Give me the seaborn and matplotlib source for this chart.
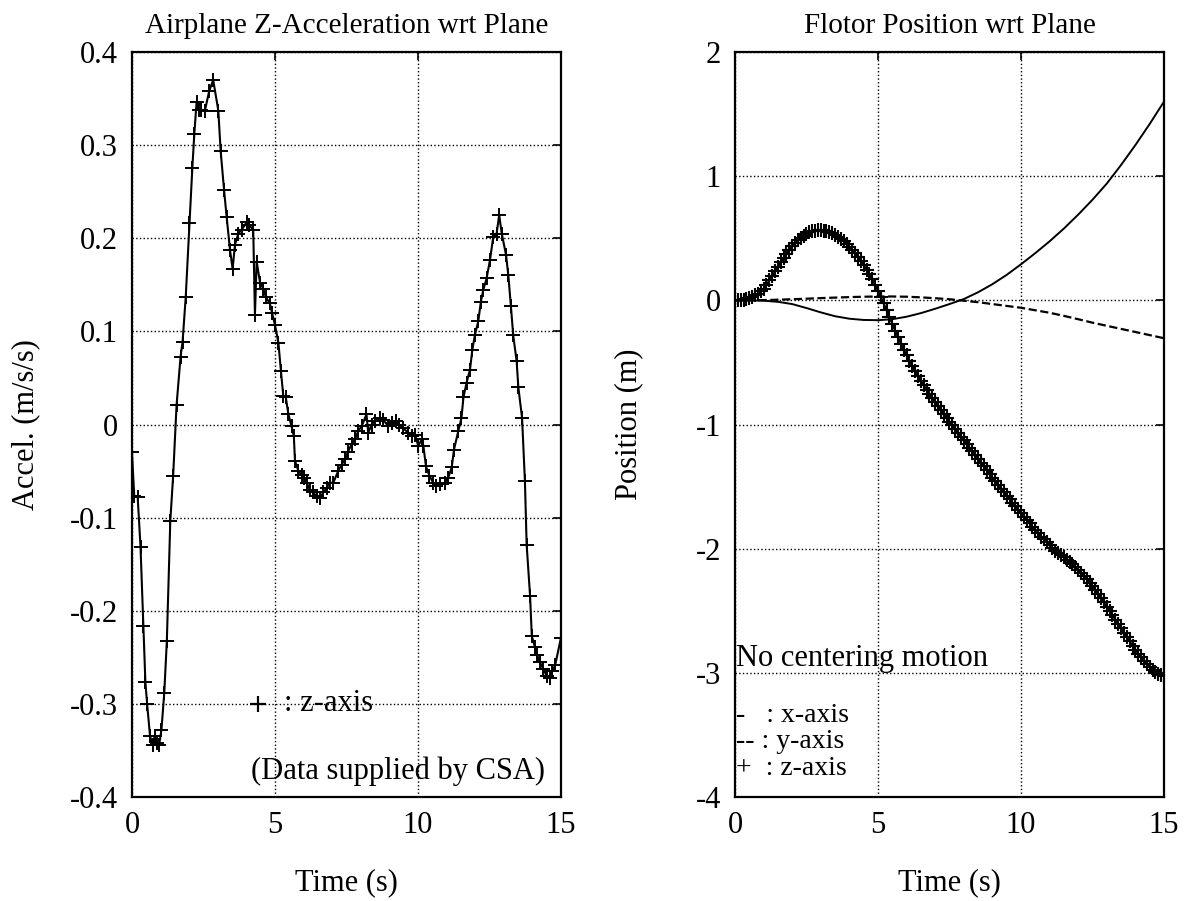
import numpy as np
import matplotlib
matplotlib.use("Agg")
import matplotlib.pyplot as plt
import seaborn as sns

# --- left panel: airplane z-acceleration ---
acc_time = [0.00, 0.08, 0.20, 0.30, 0.40, 0.47, 0.53, 0.63, 0.72, 0.80, 0.88, 0.95, 1.03, 1.13,
            1.22, 1.34, 1.44, 1.56, 1.70, 1.77, 1.88, 2.01, 2.11, 2.18, 2.26, 2.35, 2.43, 2.55,
            2.70, 2.84, 3.02, 3.10, 3.22, 3.31, 3.43, 3.52, 3.60, 3.72, 3.83, 4.01, 4.10, 4.24,
            4.30, 4.36, 4.48, 4.59, 4.68, 4.82, 4.90, 5.00, 5.12, 5.21, 5.29, 5.38, 5.47, 5.58,
            5.66, 5.70, 5.82, 5.93, 6.01, 6.11, 6.22, 6.34, 6.46, 6.57, 6.69, 6.81, 6.92, 7.04,
            7.21, 7.33, 7.45, 7.56, 7.68, 7.80, 7.91, 8.03, 8.20, 8.26, 8.38, 8.50, 8.67, 8.79,
            8.96, 9.08, 9.23, 9.35, 9.49, 9.66, 9.78, 9.90, 10.01, 10.13, 10.19, 10.28, 10.40,
            10.53, 10.63, 10.77, 10.94, 11.06, 11.18, 11.26, 11.41, 11.52, 11.59, 11.70, 11.82,
            11.90, 11.99, 12.11, 12.20, 12.28, 12.40, 12.52, 12.63, 12.75, 12.84, 12.93, 13.08,
            13.16, 13.25, 13.33, 13.45, 13.51, 13.64, 13.74, 13.80, 13.92, 13.98, 14.09, 14.17,
            14.26, 14.38, 14.50, 14.60, 14.70, 14.80, 15.00]
acc_z = [-0.030, -0.077, -0.078, -0.132, -0.216, -0.277, -0.300, -0.334, -0.344, -0.334, -0.342,
         -0.344, -0.328, -0.288, -0.232, -0.104, -0.055, 0.021, 0.073, 0.089, 0.137, 0.216, 0.275,
         0.312, 0.346, 0.338, 0.338, 0.337, 0.358, 0.370, 0.337, 0.294, 0.252, 0.223, 0.187, 0.167,
         0.193, 0.205, 0.209, 0.217, 0.214, 0.209, 0.118, 0.175, 0.152, 0.146, 0.137, 0.130, 0.120,
         0.107, 0.088, 0.057, 0.031, 0.029, 0.011, -0.002, -0.0125, -0.039, -0.050, -0.054, -0.057,
         -0.0625, -0.070, -0.073, -0.077, -0.079, -0.073, -0.068, -0.0625, -0.0625, -0.050, -0.043,
         -0.0375, -0.029, -0.021, -0.016, -0.007, -0.002, 0.011, -0.009, 0.000, 0.004, 0.007, 0.005,
         -0.002, 0.002, 0.004, 0.000, -0.004, -0.009, -0.0125, -0.011, -0.023, -0.016, -0.023,
         -0.045, -0.055, -0.0625, -0.066, -0.064, -0.0625, -0.057, -0.046, -0.027, -0.007, 0.007,
         0.029, 0.045, 0.059, 0.080, 0.096, 0.111, 0.132, 0.144, 0.157, 0.177, 0.201, 0.205, 0.225,
         0.205, 0.182, 0.160, 0.127, 0.096, 0.068, 0.040, 0.007, -0.061, -0.129, -0.184, -0.227,
         -0.239, -0.248, -0.255, -0.2625, -0.270, -0.272, -0.265, -0.258, -0.229]

# --- right panel: flotor position, x and y every 0.5 s ---
pos_time_coarse = [0.0, 0.5, 1.0, 1.5, 2.0, 2.5, 3.0, 3.5, 4.0, 4.5, 5.0, 5.5, 6.0, 6.5, 7.0, 7.5,
                   8.0, 8.5, 9.0, 9.5, 10.0, 10.5, 11.0, 11.5, 12.0, 12.5, 13.0, 13.5, 14.0, 14.5, 15.0]
pos_x = [0.0, 0.0, -0.003, -0.012, -0.03, -0.062, -0.097, -0.128, -0.148, -0.158, -0.16, -0.152,
         -0.132, -0.103, -0.068, -0.03, 0.01, 0.065, 0.13, 0.205, 0.29, 0.38, 0.475, 0.578, 0.69,
         0.81, 0.94, 1.09, 1.25, 1.42, 1.60]
pos_y = [0.0, 0.0, 0.002, 0.005, 0.009, 0.013, 0.018, 0.022, 0.026, 0.029, 0.031, 0.031, 0.029,
         0.024, 0.017, 0.009, -0.003, -0.015, -0.03, -0.045, -0.06, -0.08, -0.10, -0.125, -0.152,
         -0.18, -0.205, -0.23, -0.255, -0.28, -0.305]

# z every 0.1 s (dense '+' markers)
pos_time_fine = np.round(np.arange(0, 15.05, 0.1), 1)
pos_z = [0.0, 0.0, 0.0, 0.005, 0.01, 0.015, 0.025, 0.04, 0.055, 0.072,
         0.09, 0.125, 0.16, 0.196, 0.233, 0.27, 0.307, 0.343, 0.375, 0.405,
         0.435, 0.462, 0.485, 0.505, 0.522, 0.536, 0.547, 0.555, 0.56, 0.563,
         0.563, 0.561, 0.557, 0.55, 0.539, 0.525, 0.51, 0.494, 0.476, 0.455,
         0.432, 0.407, 0.38, 0.35, 0.317, 0.283, 0.247, 0.21, 0.168, 0.123,
         0.076, 0.027, -0.025, -0.08, -0.135, -0.19, -0.245, -0.298, -0.348, -0.396,
         -0.443, -0.488, -0.53, -0.571, -0.61, -0.648, -0.684, -0.719, -0.753, -0.787,
         -0.82, -0.852, -0.884, -0.915, -0.946, -0.977, -1.007, -1.037, -1.067, -1.097,
         -1.127, -1.157, -1.187, -1.217, -1.247, -1.277, -1.307, -1.337, -1.367, -1.397,
         -1.427, -1.457, -1.487, -1.516, -1.545, -1.573, -1.601, -1.629, -1.657, -1.685,
         -1.713, -1.741, -1.769, -1.797, -1.825, -1.852, -1.877, -1.902, -1.926, -1.949,
         -1.972, -1.994, -2.015, -2.034, -2.052, -2.07, -2.088, -2.106, -2.125, -2.146,
         -2.168, -2.192, -2.218, -2.245, -2.273, -2.302, -2.332, -2.364, -2.398, -2.432,
         -2.467, -2.502, -2.537, -2.572, -2.607, -2.642, -2.677, -2.712, -2.747, -2.781,
         -2.814, -2.846, -2.876, -2.905, -2.932, -2.956, -2.977, -2.994, -3.008, -3.018,
         -3.025]

acc_yticks = [-0.4, -0.3, -0.2, -0.1, 0, 0.1, 0.2, 0.3, 0.4]
pos_yticks = [-4, -3, -2, -1, 0, 1, 2]
time_ticks = [0, 5, 10, 15]

sns.set_theme(style="white")
plt.rcParams['font.family'] = ['Liberation Serif', 'DejaVu Serif']
plt.rcParams['axes.unicode_minus'] = False
plt.rcParams['text.color'] = 'black'
FS = 22

fig = plt.figure(figsize=(11.91, 9.01), dpi=100)
ax1 = fig.add_axes([0.1108, 0.1154, 0.3602, 0.8269])
ax2 = fig.add_axes([0.6171, 0.1154, 0.3602, 0.8269])


def style_axes(ax, yticks):
    ax.set_xlim(0, 15)
    ax.set_ylim(yticks[0], yticks[-1])
    ax.set_xticks(time_ticks)
    ax.set_yticks(yticks)
    ax.set_xticklabels([f"{t:g}" for t in time_ticks])
    ax.set_yticklabels([f"{round(v, 1):g}" for v in yticks])
    ax.grid(True, color="black", linestyle=":", linewidth=1.0)
    ax.tick_params(direction="in", length=6, width=1.2, top=True, right=True,
                   labelsize=FS, colors="black", labelcolor="black", pad=10)
    for s in ax.spines.values():
        s.set_color("black")
        s.set_linewidth(1.6)
    ax.set_xlabel("Time (s)", fontsize=FS, color="black")
    ax.xaxis.set_label_coords(0.5, -0.095)
    ax.yaxis.set_label_coords(-0.215, 0.5)


# left panel
sns.lineplot(x=acc_time, y=acc_z, ax=ax1, color="black", linewidth=1.5,
             marker="+", markersize=10, markeredgewidth=1.4, markeredgecolor="black")
style_axes(ax1, acc_yticks)
ax1.set_ylabel("Accel. (m/s/s)", fontsize=FS, color="black")
ax1.set_title("Airplane Z-Acceleration wrt Plane", fontsize=FS - 1, pad=14, color="black")
ax1.plot([4.41], [-0.300], marker="+", color="black", markersize=11, markeredgewidth=1.6)
ax1.text(5.3, -0.300, ": z-axis", fontsize=FS, va="center", ha="left", color="black")
ax1.text(14.45, -0.372, "(Data supplied by CSA)", fontsize=FS, va="center", ha="right",
         color="black")

# right panel
sns.lineplot(x=pos_time_coarse, y=pos_x, ax=ax2, color="black", linewidth=1.4)
sns.lineplot(x=pos_time_coarse, y=pos_y, ax=ax2, color="black", linewidth=1.6, linestyle="--")
sns.lineplot(x=pos_time_fine, y=pos_z, ax=ax2, color="black", linewidth=1.5,
             marker="+", markersize=10, markeredgewidth=1.5, markeredgecolor="black")
style_axes(ax2, pos_yticks)
ax2.set_ylabel("Position (m)", fontsize=FS, color="black")
ax2.set_title("Flotor Position wrt Plane", fontsize=FS - 1, pad=14, color="black")
ax2.text(0.05, -2.885, "No centering motion", fontsize=FS, va="center", ha="left", color="black")
ax2.text(0.05, -3.34, "-   : x-axis", fontsize=FS - 2, va="center", ha="left", color="black")
ax2.text(0.05, -3.55, "-- : y-axis", fontsize=FS - 2, va="center", ha="left", color="black")
ax2.text(0.05, -3.77, "+  : z-axis", fontsize=FS - 2, va="center", ha="left", color="black")

fig.savefig("out.png", dpi=100, facecolor="white")
